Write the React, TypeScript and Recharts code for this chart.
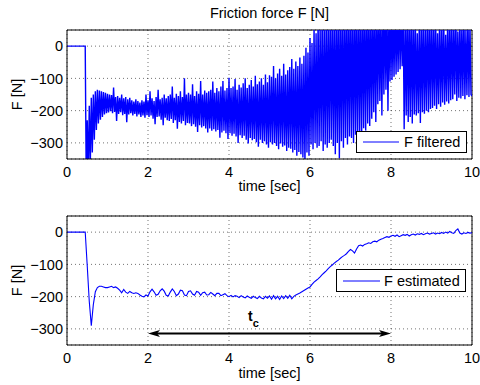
import {
  CartesianGrid,
  Legend,
  Line,
  LineChart,
  ReferenceDot,
  ReferenceLine,
  XAxis,
  YAxis,
} from "recharts";

const timeTicks = [0, 2, 4, 6, 8, 10];
const forceTicks = [-300, -200, -100, 0];

// F filtered, one sample every 0.025 s (20 per row = 0.5 s)
const filteredStep = 0.025;
const filteredForce = [
  0, 0, 0, 0, 0, 0, 0, 0, 0, 0, 0, 0, 0, 0, 0, 0, 0, 0, 0, -420,
  -230, -400, -185, -370, -160, -330, -150, -290, -140, -260, -135, -240, -138, -228, -140, -220, -142, -212, -145, -208,
  -148, -206, -150, -202, -152, -208, -128, -204, -158, -232, -155, -210, -160, -205, -150, -214, -162, -210, -158, -236,
  -165, -212, -160, -208, -168, -215, -172, -210, -165, -218, -170, -212, -175, -220, -168, -215, -172, -222, -150, -214,
  -168, -220, -140, -215, -162, -225, -170, -242, -158, -220, -135, -218, -165, -228, -160, -245, -150, -222, -162, -230,
  -155, -232, -150, -226, -125, -238, -160, -230, -148, -256, -155, -235, -140, -240, -158, -232, -100, -245, -150, -238,
  -145, -240, -150, -248, -118, -242, -155, -250, -140, -266, -148, -245, -108, -252, -150, -248, -138, -255, -145, -268,
  -140, -255, -135, -262, -110, -258, -145, -265, -130, -260, -140, -284, -125, -268, -108, -262, -138, -270, -130, -288,
  -98, -270, -130, -278, -125, -272, -102, -280, -135, -300, -120, -276, -128, -285, -115, -278, -100, -290, -130, -302,
  -120, -285, -105, -292, -125, -288, -92, -298, -118, -312, -110, -290, -100, -300, -120, -295, -88, -305, -112, -315,
  -90, -298, -95, -305, -62, -300, -100, -310, -85, -320, -70, -302, -92, -312, -55, -308, -88, -325, -75, -315,
  -65, -318, -40, -330, -70, -322, -48, -340, -62, -328, -35, -335, -55, -345, -30, -365, -5, -330, -20, -340,
  25, -305, 10, -320, 60, -300, 40, -315, 90, -310, 70, -295, 110, -325, 80, -305, 120, -315, 95, -300,
  130, -290, 100, -310, 140, -335, 110, -300, 150, -348, 120, -295, 140, -315, 115, -285, 150, -305, 125, -280,
  140, -285, 120, -300, 150, -275, 130, -290, 140, -265, 120, -282, 150, -255, 125, -262, 140, -240, 130, -248,
  135, -225, 120, -205, 140, -235, 125, -180, 130, -170, 120, -215, 140, -150, 125, -135, 135, -200, 120, -110,
  130, -105, 110, -95, 140, -88, 120, -80, 135, -72, 110, -62, 125, -258, 100, -215, 130, -235, 105, -220,
  120, -240, 90, -212, 110, -215, 40, -208, 100, -238, 85, -205, 110, -210, 60, -200, 120, -205, 80, -195,
  110, -192, 70, -185, 120, -195, 40, -180, 100, -188, 60, -175, 110, -182, 35, -172, 100, -178, 75, -168,
  110, -165, 60, -150, 120, -170, 45, -160, 100, -162, 70, -155, 110, -165, 50, -152, 100, -158, 70, -150,
  -155,
];

// F estimated, one sample every 0.05 s (20 per row = 1 s)
const estimatedStep = 0.05;
const estimatedForce = [
  0, 0, 0, 0, 0, 0, 0, 0, 0, 0, -105, -215, -290, -225, -185, -172, -168, -168, -170, -172,
  -172, -170, -168, -172, -170, -174, -180, -188, -178, -186, -190, -184, -188, -190, -188, -190, -195, -199, -201, -195,
  -198, -185, -177, -185, -196, -193, -182, -176, -183, -196, -198, -186, -176, -184, -197, -192, -180, -182, -195, -197,
  -184, -182, -192, -196, -184, -186, -196, -188, -186, -195, -194, -187, -192, -197, -190, -190, -197, -194, -191, -197,
  -200, -196, -201, -197, -199, -203, -197, -201, -204, -198, -202, -205, -199, -203, -206, -199, -204, -207, -199, -205,
  -198, -208, -197, -207, -199, -209, -198, -206, -197, -205, -196, -207, -199, -195, -192, -189, -185, -181, -177, -173,
  -170, -162, -155, -150, -145, -139, -132, -126, -120, -113, -107, -102, -96, -91, -87, -81, -76, -72, -67, -60,
  -54, -58, -65, -52, -42, -40, -43, -38, -36, -33, -35, -30, -28, -30, -25, -22, -20, -17, -14, -16,
  -12, -10, -13, -9, -14, -11, -8, -10, -7, -12, -8, -6, -9, -5, -7, -4, -8, -5, -3, -6,
  -4, -2, -6, -3, -5, -1, -4, 0, -3, 2, -2, -4, 5, 10, -3, -6, -2, -4, -1, -3,
  -2,
];

const filteredData = filteredForce.map((f, i) => ({ t: +(i * filteredStep).toFixed(3), f }));
const estimatedData = estimatedForce.map((f, i) => ({ t: +(i * estimatedStep).toFixed(3), f }));

const FONT = "'Liberation Sans', Arial, Helvetica, sans-serif";
const FS = 14.5;
const BLUE = "#0000ff";

const fmt = (v: number) => String(v).replace("-", "\u2212");

function LegendBox({ label, width, height, lineWidth, gap }: any) {
  return (
    <div
      style={{
        boxSizing: "border-box",
        width,
        height,
        border: "1px solid #000",
        background: "#fff",
        display: "flex",
        alignItems: "center",
        paddingLeft: 6,
        fontFamily: FONT,
        fontSize: FS,
        color: "#000",
        whiteSpace: "nowrap",
      }}
    >
      <svg width={lineWidth} height={4} style={{ marginRight: gap, display: "block" }}>
        <line x1={0} y1={2} x2={lineWidth} y2={2} stroke={BLUE} strokeWidth={1} />
      </svg>
      <span>{label}</span>
    </div>
  );
}

function DoubleArrow(props: any) {
  const { x1, y1, x2, y2 } = props;
  const len = 12;
  const half = 3.5;
  const back = 9;
  return (
    <g>
      <line x1={x1 + back} y1={y1} x2={x2 - back} y2={y2} stroke="#000" strokeWidth={2} />
      <polygon points={`${x1},${y1} ${x1 + len},${y1 - half} ${x1 + back},${y1} ${x1 + len},${y1 + half}`} fill="#000" />
      <polygon points={`${x2},${y2} ${x2 - len},${y2 - half} ${x2 - back},${y2} ${x2 - len},${y2 + half}`} fill="#000" />
    </g>
  );
}

function TcLabel({ cx, cy }: any) {
  return (
    <text x={cx} y={cy} fontFamily={FONT} fontSize={14} fontWeight="bold" fill="#000">
      t
      <tspan dy={6} fontSize={11}>c</tspan>
    </text>
  );
}

const tickStyle = { fill: "#000", fontSize: FS, fontFamily: FONT };

function axes(xAxisHeight: number, labelOffset: number) {
  return [
    <CartesianGrid key="g" stroke="#000" strokeOpacity={0.55} strokeDasharray="1 3" />,
    <XAxis
      key="x"
      dataKey="t"
      type="number"
      domain={[0, 10]}
      ticks={timeTicks}
      interval={0}
      allowDataOverflow
      tickLine={false}
      tickSize={6}
      tickMargin={2}
      height={xAxisHeight}
      axisLine={{ stroke: "#000" }}
      tick={tickStyle}
      label={{ value: "time [sec]", position: "insideBottom", offset: labelOffset, fill: "#000", fontSize: FS, fontFamily: FONT }}
    />,
    <YAxis
      key="y"
      type="number"
      domain={[-350, 50]}
      ticks={forceTicks}
      interval={0}
      allowDataOverflow
      tickLine={false}
      tickSize={2}
      tickMargin={2}
      width={67}
      tickFormatter={fmt}
      axisLine={{ stroke: "#000" }}
      tick={tickStyle}
      label={{ value: "F [N]", angle: -90, position: "center", dx: -17, fill: "#000", fontSize: FS, fontFamily: FONT }}
    />,
    <ReferenceLine key="rx" x={10} stroke="#000" />,
    <ReferenceLine key="ry" y={50} stroke="#000" />,
  ];
}

export default function App() {
  return (
    <div style={{ position: "absolute", left: 0, top: 0, width: 480, height: 385, background: "#fff" }}>
      <div
        style={{
          position: "absolute",
          left: 67,
          top: 5,
          width: 405,
          textAlign: "center",
          fontFamily: FONT,
          fontSize: FS,
          color: "#000",
          zIndex: 2,
        }}
      >
        Friction force F [N]
      </div>
      <LineChart width={480} height={195} data={filteredData} margin={{ top: 30, right: 8, bottom: 2, left: 0 }}>
        {axes(34, 2)}
        <Line
          dataKey="f"
          name="F filtered"
          type="linear"
          stroke={BLUE}
          strokeWidth={1.4}
          dot={false}
          activeDot={false}
          isAnimationActive={false}
        />
        <Legend
          layout="horizontal"
          verticalAlign="middle"
          align="center"
          wrapperStyle={{ left: 356, top: 131, width: 111, height: 22 }}
          content={() => <LegendBox label="F filtered" width={111} height={22} lineWidth={36} gap={5} />}
        />
      </LineChart>
      <LineChart width={480} height={190} data={estimatedData} margin={{ top: 21, right: 8, bottom: 4, left: 0 }}>
        {axes(36, 3)}
        <Line
          dataKey="f"
          name="F estimated"
          type="linear"
          stroke={BLUE}
          strokeWidth={1.1}
          dot={false}
          activeDot={false}
          isAnimationActive={false}
        />
        <ReferenceLine segment={[{ x: 2, y: -314 }, { x: 8, y: -314 }]} ifOverflow="visible" shape={DoubleArrow} />
        <ReferenceDot x={4.47} y={-277} r={0} ifOverflow="visible" shape={TcLabel} />
        <Legend
          layout="horizontal"
          verticalAlign="middle"
          align="center"
          wrapperStyle={{ left: 336, top: 74, width: 130, height: 23 }}
          content={() => <LegendBox label="F estimated" width={130} height={23} lineWidth={37} gap={4} />}
        />
      </LineChart>
    </div>
  );
}
